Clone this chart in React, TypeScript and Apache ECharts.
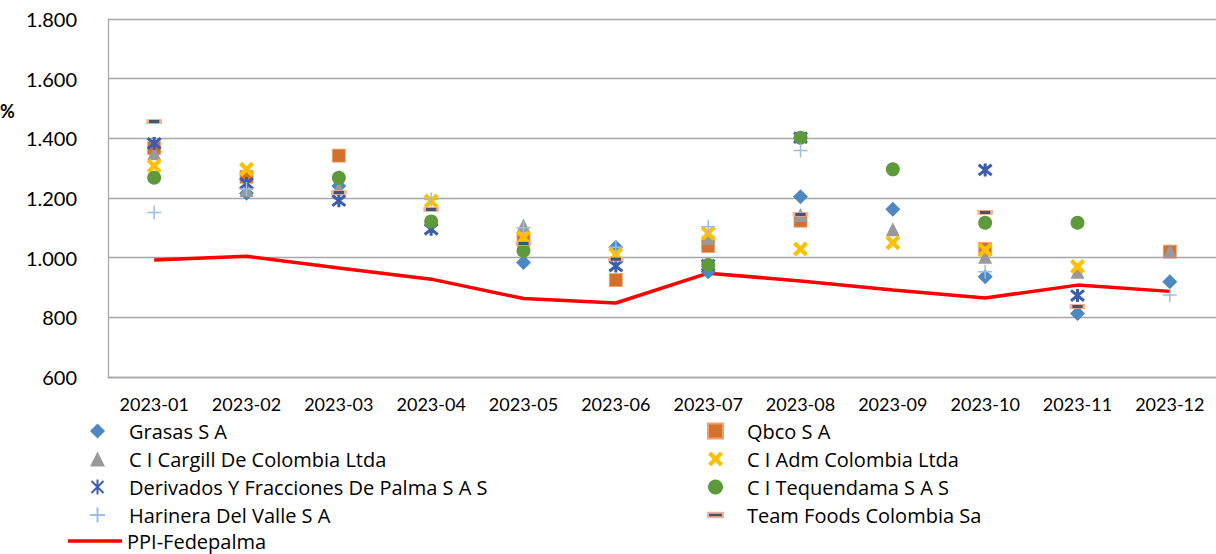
import React, { useEffect, useRef } from "react";
import * as echarts from "echarts";

const categories = ["2023-01","2023-02","2023-03","2023-04","2023-05","2023-06","2023-07","2023-08","2023-09","2023-10","2023-11","2023-12"];
const yTicks = [600, 800, 1000, 1200, 1400, 1600, 1800];

const grasas = [1355, 1216, 1240, null, 984, 1035, 953, 1204, 1162, 936, 813, 919];
const qbco = [1367, 1271, 1342, null, 1060, 925, 1039, 1124, null, 1029, null, 1020];
const cargill = [1350, 1227, 1232, null, 1108, null, 1065, 1143, 1095, 1003, 953, 1022];
const adm = [1307, 1296, null, 1190, 1068, 1011, 1082, 1029, 1050, 1026, 970, null];
const derivados = [1383, 1249, 1191, 1095, null, 972, 975, 1402, null, 1294, 873, null];
const tequendama = [1268, null, 1268, 1121, 1023, null, 975, 1402, 1296, 1117, 1117, null];
const harinera = [1151, 1230, null, 1195, 1100, 1035, 1104, 1359, null, 953, null, 875];
const teamFoods = [1456, null, 1218, 1162, 1048, 995, null, 1145, null, 1152, 836, null];
const ppi = [992, 1005, 965, 928, 863, 848, 948, 922, 892, 865, 908, 887];

const X_PATH = "path://M0,2L2,0L5,3L8,0L10,2L7,5L10,8L8,10L5,7L2,10L0,8L3,5Z";
const STAR_PATH = "path://M1,1L9,9M9,1L1,9M5,0L5,10";
const PLUS_PATH = "path://M5,0L5,10M0,5L10,5";
const DASH_PATH = "path://M0,0L10,0L10,3L0,3Z";
const LINE_PATH = "path://M0,0L54,0L54,3.5L0,3.5Z";

const FONT = "'Open Sans', sans-serif";
const AXFONT = "Lato, sans-serif";

export default function App() {
  const ref = useRef<HTMLDivElement>(null);
  useEffect(() => {
    if (!ref.current) return;
    const chart = echarts.init(ref.current, null, { renderer: "svg" });
    const sc = (name: string, data: any[], symbol: string, size: any, itemStyle: any) => ({
      name, type: "scatter", data, symbol, symbolSize: size, itemStyle: { opacity: 1, ...itemStyle }, z: 3,
    });
    const fmt = (v: number) => String(v).replace(/\B(?=(\d{3})+(?!\d))/g, ".");
    const legendText = {
      fontSize: 20, color: "#000", fontFamily: FONT,
      rich: { a: { fontSize: 20, color: "#000", fontFamily: FONT, lineHeight: 20, padding: [0, 0, 0, 19] } },
    };
    const legendBase = {
      orient: "vertical", itemWidth: 15, itemHeight: 15, itemGap: 8, padding: 0,
      formatter: "{a|{name}}", textStyle: legendText, selectedMode: false,
    };
    chart.setOption({
      animation: false,
      backgroundColor: "#fff",
      grid: { left: 108, right: -6, top: 19, bottom: 177, containLabel: false },
      xAxis: {
        type: "category", data: categories, boundaryGap: true,
        axisLine: { show: true, lineStyle: { color: "#A6A6A6", width: 1.3 } },
        axisTick: { show: false },
        axisLabel: { fontSize: 18, color: "#000", fontFamily: AXFONT, margin: 18 },
      },
      yAxis: {
        type: "value", min: 600, max: 1800, interval: 200,
        axisLine: { show: true, lineStyle: { color: "#A6A6A6", width: 1.3 } },
        axisTick: { show: false },
        splitLine: { lineStyle: { color: "#A6A6A6", width: 1.3 } },
        axisLabel: { fontSize: 20, color: "#000", fontFamily: AXFONT, margin: 31, formatter: (v: number) => fmt(v) },
      },
      graphic: [
        { type: "text", left: 0, top: 102, style: { text: "%", fontSize: 18, fontWeight: "bold", fill: "#000", fontFamily: AXFONT } },
      ],
      legend: [
        { ...legendBase, left: 89, top: 421,
          data: [
            { name: "Grasas S A", icon: "diamond" },
            { name: "C I Cargill De Colombia Ltda", icon: "triangle" },
            { name: "Derivados Y Fracciones De Palma S A S", icon: STAR_PATH },
            { name: "Harinera Del Valle S A", icon: PLUS_PATH },
          ] },
        { ...legendBase, left: 707, top: 421,
          data: [
            { name: "Qbco S A", icon: "rect" },
            { name: "C I Adm Colombia Ltda", icon: X_PATH },
            { name: "C I Tequendama S A S", icon: "circle" },
            { name: "Team Foods Colombia Sa", icon: DASH_PATH },
          ] },
        { orient: "vertical", left: 68, top: 531, itemWidth: 54, itemHeight: 14, padding: 0, selectedMode: false,
          formatter: "{a|{name}}",
          textStyle: { fontSize: 20, color: "#000", fontFamily: FONT,
            rich: { a: { fontSize: 20, color: "#000", fontFamily: FONT, lineHeight: 20, padding: [0, 0, 0, 0] } } },
          data: [{ name: "PPI-Fedepalma", icon: LINE_PATH, itemStyle: { color: "#FF0000" } }] },
      ],
      series: [
        sc("Grasas S A", grasas, "diamond", 15, { color: "#4E88C3" }),
        sc("Qbco S A", qbco, "rect", 13, { color: "#D3702B", borderColor: "#F0A070", borderWidth: 0.8 }),
        sc("C I Cargill De Colombia Ltda", cargill, "triangle", 14, { color: "#999999" }),
        sc("C I Adm Colombia Ltda", adm, X_PATH, 15, { color: "#FFC000" }),
        sc("Derivados Y Fracciones De Palma S A S", derivados, STAR_PATH, 13, { color: "rgba(0,0,0,0)", borderColor: "#3A5DAE", borderWidth: 3 }),
        sc("C I Tequendama S A S", tequendama, "circle", 14, { color: "#5E9A3B" }),
        sc("Harinera Del Valle S A", harinera, PLUS_PATH, 14, { color: "rgba(0,0,0,0)", borderColor: "#9CBDE5", borderWidth: 1.5 }),
        sc("Team Foods Colombia Sa", teamFoods, DASH_PATH, [13, 4], { color: "#44546A", borderColor: "#F4B19A", borderWidth: 1.5 }),
        {
          name: "PPI-Fedepalma", type: "line", data: ppi, symbol: "none", z: 2,
          lineStyle: { color: "#FF0000", width: 3.5 }, itemStyle: { color: "#FF0000" },
        },
      ],
    });
    return () => chart.dispose();
  }, []);
  return <div ref={ref} style={{ position: "fixed", left: 0, top: 0, width: 1216, height: 554 }} />;
}
